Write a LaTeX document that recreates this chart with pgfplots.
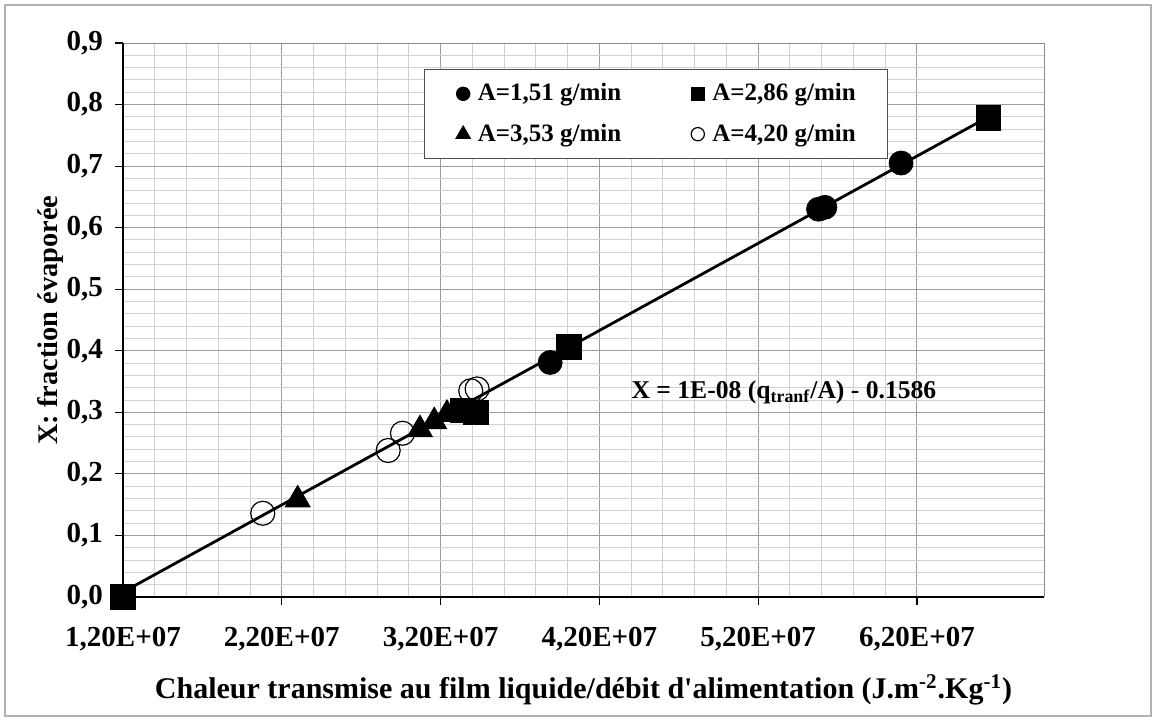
\documentclass[border=0pt]{standalone}
\usepackage{pgfplots}
\pgfplotsset{compat=1.18}
\usepackage{fontspec}
\setmainfont{Liberation Serif}
\pgfplotstableread{
x y
3.89e7 0.381
5.58e7 0.630
5.62e7 0.633
6.10e7 0.705
}\seriesA
\pgfplotstableread{
x y
1.20e7 0.000
3.34e7 0.303
3.42e7 0.300
4.01e7 0.406
6.65e7 0.778
}\seriesB
\pgfplotstableread{
x y
2.30e7 0.158
3.07e7 0.272
3.16e7 0.285
3.24e7 0.297
}\seriesC
\pgfplotstableread{
x y
2.08e7 0.136
2.87e7 0.238
2.96e7 0.266
3.39e7 0.335
3.43e7 0.338
}\seriesD
\begin{document}
\begin{tikzpicture}[font=\fontsize{12.5}{15}\selectfont\bfseries]
\useasboundingbox (0,0) rectangle (578pt,360.5pt);
\draw[black!30, line width=0.75pt] (2.5pt,2.5pt) rectangle (575.5pt,358pt);
\begin{axis}[
  at={(61.5pt,62pt)}, anchor=south west,
  scale only axis, width=460.5pt, height=277pt,
  xmin=1.2e7, xmax=7.0e7, ymin=0, ymax=0.9,
  scaled x ticks=false,
  xtick={1.2e7,2.2e7,3.2e7,4.2e7,5.2e7,6.2e7},
  xticklabels={{1,20E+07},{2,20E+07},{3,20E+07},{4,20E+07},{5,20E+07},{6,20E+07}},
  ytick={0,0.1,0.2,0.3,0.4,0.5,0.6,0.7,0.8,0.9},
  yticklabels={{0,0},{0,1},{0,2},{0,3},{0,4},{0,5},{0,6},{0,7},{0,8},{0,9}},
  xticklabel style={font=\fontsize{14.5}{17}\selectfont\bfseries, yshift=-7.5pt},
  yticklabel style={font=\fontsize{14.5}{17}\selectfont\bfseries, xshift=-2.5pt},
  minor x tick num=4, minor y tick num=4,
  grid=both,
  major grid style={black!38, line width=0.5pt},
  minor grid style={black!18, line width=0.5pt},
  tick align=outside, tick pos=left,
  major tick length=4pt, minor tick length=0pt,
  axis line style={black!45, line width=0.5pt},
  major tick style={black, line width=0.6pt},
  clip=false,
  xlabel={Chaleur transmise au film liquide/débit d\textquotesingle alimentation (J.m\textsuperscript{-2}.Kg\textsuperscript{-1})},
  ylabel={X: fraction évaporée},
  xlabel style={at={(axis description cs:0.5,-0.168)}, anchor=center, font=\fontsize{15}{18}\selectfont\bfseries},
  ylabel style={at={(axis description cs:-0.079,0.5)}, anchor=center, font=\fontsize{14.2}{17}\selectfont\bfseries},
  legend columns=2,
  legend style={at={(0.3268,0.953)}, anchor=north west, draw=black!70, line width=0.6pt, fill=white,
    inner xsep=14pt, inner ysep=5pt, row sep=6pt,
    /tikz/every even column/.append style={column sep=31pt}},
  legend image code/.code={\path (0pt,0pt) (10pt,0pt); \draw[#1] plot coordinates {(5pt,0pt)};},
]
\draw[black, line width=1pt] (rel axis cs:0,1) -- (rel axis cs:0,0) -- (rel axis cs:1,0);
\addplot[black, line width=1.4pt, forget plot] coordinates {(1.2e7,0.008) (6.65e7,0.780)};
\addplot[only marks, mark=*, mark size=6pt, black, legend image post style={mark size=3.3pt}] table {\seriesA};
\addlegendentry{A=1,51 g/min}
\addplot[only marks, mark=square*, mark size=6.2pt, black, legend image post style={mark size=3.2pt}] table {\seriesB};
\addlegendentry{A=2,86 g/min}
\addplot[only marks, mark=triangle*, mark size=7.2pt, black, legend image post style={mark size=4pt}] table {\seriesC};
\addlegendentry{A=3,53 g/min}
\addplot[only marks, mark=o, mark size=6pt, black, mark options={line width=0.6pt}, legend image post style={mark size=3.3pt}] table {\seriesD};
\addlegendentry{A=4,20 g/min}
\node[anchor=west, inner sep=0pt, font=\fontsize{12.8}{15}\selectfont\bfseries] at (axis cs:4.4e7,0.333) {X = 1E-08 (q\textsubscript{tranf}/A) - 0.1586};
\end{axis}
\end{tikzpicture}
\end{document}
